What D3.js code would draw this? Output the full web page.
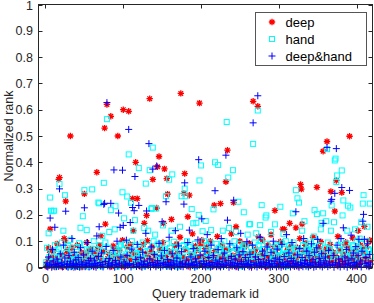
<!DOCTYPE html>
<html>
<head>
<meta charset="utf-8">
<script src="https://cdn.jsdelivr.net/npm/d3@7"></script>
<style>
  body { margin: 0; background: #fff; }
  svg { display: block; font-family: "Liberation Sans", Arial, sans-serif; }
</style>
</head>
<body>
<script>
// normalized rank of each query trademark (ids 1..418), one array per method
var deepRank = [
  .012,.004,.03,.075,.065,.146,.02,.041,.006,.063,.015,.002,.035,.01,.09,.018,.335,.342,.025,.005,
  .014,.048,.003,.11,.102,.252,.022,.068,.056,.012,.032,.50,.009,.075,.017,.001,.044,.013,.028,.006,
  .085,.019,.004,.037,.011,.058,.002,.024,.012,.28,.046,.008,.095,.016,.062,.033,.021,.07,.009,.027,
  .014,.005,.052,.018,.038,.362,.069,.011,.085,.042,.12,.016,.007,.026,.06,.53,.165,.013,.62,.034,
  .009,.05,.021,.575,.004,.031,.082,.015,.072,.047,.011,.026,.50,.008,.066,.019,.038,.005,.104,.60,
  .017,.043,.006,.029,.078,.012,.594,.035,.088,.021,.058,.262,.14,.01,.049,.40,.024,.262,.044,.007,
  .016,.067,.004,.031,.012,.088,.168,.02,.052,.198,.102,.009,.036,.642,.015,.06,.078,.335,.025,.011,
  .045,.008,.226,.383,.018,.422,.07,.065,.033,.014,.095,.168,.375,.022,.041,.338,.279,.011,.062,.003,
  .027,.183,.013,.048,.006,.083,.019,.035,.09,.055,.014,.029,.115,.662,.009,.04,.017,.282,.357,.07,
  .012,.032,.193,.005,.275,.05,.016,.024,.128,.008,.044,.018,.082,.065,.027,.011,.038,.625,.02,.09,
  .104,.015,.043,.007,.072,.022,.076,.034,.012,.057,.019,.1,.028,.005,.046,.013,.237,.064,.009,.03,
  .118,.017,.04,.006,.243,.025,.085,.011,.052,.07,.033,.326,.02,.446,.068,.014,.038,.007,.128,.024,
  .045,.247,.012,.03,.155,.004,.061,.019,.037,.1,.009,.026,.054,.015,.088,.078,.031,.011,.047,.022,
  .013,.092,.035,.006,.058,.018,.632,.028,.064,.07,.042,.012,.613,.117,.024,.008,.05,.016,.105,.033,
  .01,.062,.021,.004,.044,.085,.015,.03,.007,.125,.038,.018,.056,.079,.217,.027,.012,.072,.046,.009,
  .02,.098,.034,.006,.146,.015,.145,.05,.025,.011,.066,.07,.039,.168,.018,.082,.029,.008,.055,.013,
  .036,.151,.022,.075,.005,.045,.11,.316,.298,.165,.016,.06,.028,.084,.092,.04,.012,.068,.024,.007,
  .05,.017,.03,.115,.009,.062,.02,.042,.305,.014,.078,.066,.035,.098,.022,.01,.442,.054,.026,.013,
  .07,.479,.018,.04,.074,.088,.289,.03,.012,.058,.021,.214,.045,.331,.008,.118,.027,.015,.066,.035,
  .285,.012,.052,.022,.086,.096,.031,.016,.075,.042,.499,.009,.058,.025,.112,.014,.038,.005,.068,.02,
  .045,.14,.011,.03,.085,.018,.072,.055,.024,.156,.035,.012,.078,.043,.008,.1,.104,.026
];

var handRank = [
  .02,.075,.01,.13,.04,.266,.216,.06,.214,.025,.216,.085,.005,.06,.035,.015,.07,.318,.045,.012,
  .095,.028,.14,.008,.275,.055,.075,.018,.082,.038,.004,.105,.022,.065,.012,.048,.05,.03,.002,.078,
  .042,.015,.092,.033,.151,.007,.068,.195,.024,.294,.088,.012,.142,.05,.003,.065,.036,.018,.072,.297,
  .027,.1,.009,.058,.07,.04,.016,.247,.244,.085,.03,.005,.12,.062,.322,.02,.095,.045,.564,.014,
  .075,.135,.032,.218,.01,.045,.055,.022,.145,.233,.068,.004,.06,.038,.08,.016,.085,.05,.286,.026,
  .187,.09,.044,.012,.27,.07,.43,.06,.028,.246,.1,.007,.14,.05,.18,.085,.033,.055,.015,.378,
  .07,.02,.05,.04,.095,.006,.15,.058,.319,.03,.082,.14,.012,.37,.065,.223,.226,.456,.1,.045,
  .125,.224,.018,.088,.05,.09,.008,.07,.04,.032,.16,.062,.02,.065,.271,.09,.042,.005,.334,.075,
  .058,.14,.354,.025,.098,.012,.075,.06,.035,.004,.04,.05,.155,.018,.271,.082,.04,.085,.30,.271,
  .065,.1,.028,.08,.01,.078,.048,.222,.05,.168,.035,.09,.006,.17,.058,.07,.2,.331,.02,.388,
  .07,.138,.03,.1,.012,.177,.055,.085,.06,.04,.004,.095,.142,.022,.062,.221,.035,.40,.045,.09,
  .015,.39,.075,.065,.035,.088,.008,.14,.055,.1,.025,.068,.553,.05,.342,.15,.04,.082,.015,.075,
  .37,.058,.1,.03,.135,.072,.012,.25,.09,.045,.06,.006,.065,.08,.21,.03,.085,.045,.018,.125,
  .052,.164,.165,.078,.025,.055,.47,.04,.095,.01,.13,.062,.597,.085,.035,.161,.1,.237,.048,.07,
  .07,.015,.19,.198,.09,.04,.06,.06,.008,.135,.075,.028,.04,.05,.164,.085,.02,.08,.062,.038,
  .065,.231,.045,.092,.015,.128,.07,.03,.1,.055,.006,.05,.082,.04,.085,.065,.022,.206,.095,.05,
  .07,.294,.07,.263,.035,.247,.045,.058,.012,.14,.085,.045,.176,.1,.025,.06,.068,.008,.08,.05,
  .09,.065,.04,.075,.118,.218,.02,.1,.203,.06,.055,.03,.085,.145,.17,.05,.206,.04,.015,.075,
  .176,.45,.095,.04,.07,.065,.14,.236,.022,.05,.172,.407,.414,.325,.35,.085,.05,.065,.03,.1,
  .369,.198,.255,.07,.06,.04,.092,.14,.235,.06,.015,.228,.045,.05,.085,.08,.025,.145,.065,.1,
  .035,.07,.075,.11,.045,.172,.09,.243,.275,.06,.055,.02,.1,.155,.07,.065,.243,.04
];

var bothRank = [
  .005,.018,.002,.04,.009,.188,.013,.001,.068,.025,.006,.153,.011,.003,.032,.015,.004,.299,.052,.008,
  .02,.002,.085,.012,.036,.214,.005,.014,.001,.045,.01,.024,.003,.11,.007,.016,.058,.002,.029,.011,
  .004,.038,.013,.001,.075,.021,.006,.012,.048,.227,.003,.017,.009,.095,.026,.002,.014,.035,.006,.062,
  .01,.003,.028,.015,.001,.12,.008,.042,.155,.019,.005,.055,.012,.002,.24,.244,.023,.08,.627,.006,
  .014,.034,.003,.244,.009,.018,.065,.371,.001,.027,.011,.1,.005,.207,.016,.153,.04,.007,.37,.16,
  .021,.003,.012,.104,.046,.008,.525,.015,.171,.002,.07,.228,.01,.216,.346,.031,.004,.088,.013,.236,
  .006,.039,.017,.001,.058,.011,.024,.004,.13,.215,.014,.007,.471,.033,.002,.078,.019,.374,.009,.05,
  .012,.003,.386,.026,.008,.092,.015,.001,.044,.174,.006,.02,.065,.011,.25,.004,.03,.013,.115,.007,
  .018,.002,.052,.01,.025,.005,.14,.014,.036,.001,.082,.009,.021,.004,.06,.016,.003,.241,.322,.011,
  .028,.006,.095,.013,.142,.002,.04,.017,.008,.072,.012,.001,.033,.021,.005,.105,.41,.009,.047,.015,
  .185,.004,.024,.011,.062,.002,.016,.125,.007,.038,.013,.001,.085,.019,.005,.045,.01,.292,.028,.003,
  .014,.068,.006,.022,.002,.11,.012,.035,.004,.055,.017,.427,.008,.18,.026,.001,.09,.013,.042,.005,
  .02,.256,.007,.032,.003,.075,.015,.001,.048,.01,.13,.022,.004,.06,.012,.002,.038,.016,.098,.008,
  .025,.003,.05,.011,.001,.085,.55,.018,.006,.04,.013,.002,.653,.03,.008,.115,.016,.004,.062,.021,
  .01,.045,.002,.019,.078,.006,.028,.013,.001,.058,.016,.004,.1,.024,.009,.036,.002,.07,.014,.005,
  .03,.011,.001,.088,.018,.005,.042,.012,.003,.125,.022,.008,.055,.015,.002,.034,.095,.01,.025,.004,
  .016,.212,.006,.048,.012,.001,.072,.02,.008,.038,.003,.11,.015,.027,.005,.062,.011,.002,.045,.018,
  .007,.09,.013,.03,.001,.058,.02,.004,.075,.107,.012,.035,.006,.018,.052,.002,.168,.025,.009,.04,
  .014,.456,.003,.065,.021,.008,.252,.259,.012,.045,.001,.282,.018,.452,.085,.006,.032,.013,.002,.11,
  .304,.022,.151,.005,.04,.012,.068,.001,.028,.016,.293,.007,.123,.035,.003,.055,.019,.009,.08,.014,
  .004,.045,.107,.011,.025,.002,.062,.176,.202,.107,.016,.038,.006,.09,.02,.003,.05,.013
];

var seriesNames = ['deep', 'hand', 'deep&hand'];
var xTicks = [0, 100, 200, 300, 400];
var yTicks = [0, .1, .2, .3, .4, .5, .6, .7, .8, .9, 1];

var width = 374,
  height = 303,
  plot = { left: 38.5, right: 372.5, top: 4.5, bottom: 267.5 },
  axisColor = '#262626',
  tickLen = 4;

var svg = d3.select('body').append('svg')
  .attr('width', width)
  .attr('height', height);

var x = d3.scaleLinear().domain([-9, 420.5]).range([plot.left, plot.right]),
  y = d3.scaleLinear().domain([0, 1]).range([plot.bottom, plot.top]);

var markers = {
  deep: function(g) {
    var r = 3.2, d = 2.3;
    g.append('path')
      .attr('d', 'M' + -r + ',0H' + r + 'M0,' + -r + 'V' + r +
        'M' + -d + ',' + -d + 'L' + d + ',' + d + 'M' + -d + ',' + d + 'L' + d + ',' + -d)
      .attr('stroke', '#ff0000')
      .attr('stroke-width', 1.3)
      .attr('fill', 'none');
  },
  hand: function(g) {
    g.append('rect')
      .attr('x', -2.5).attr('y', -2.5)
      .attr('width', 5).attr('height', 5)
      .attr('stroke', '#00ffff')
      .attr('stroke-width', 1)
      .attr('fill', 'none');
  },
  'deep&hand': function(g) {
    var r = 3.5;
    g.append('path')
      .attr('d', 'M' + -r + ',0H' + r + 'M0,' + -r + 'V' + r)
      .attr('stroke', '#0000ff')
      .attr('stroke-width', 1)
      .attr('fill', 'none');
  }
};

// white plot background
svg.append('rect')
  .attr('x', plot.left).attr('y', plot.top)
  .attr('width', plot.right - plot.left)
  .attr('height', plot.bottom - plot.top)
  .attr('fill', '#fff');

var pointsG = svg.append('g');

[deepRank, handRank, bothRank].forEach(function(values, si) {
  var name = seriesNames[si];
  pointsG.append('g').selectAll('g')
    .data(values)
    .enter().append('g')
    .attr('transform', function(v, i) {
      return 'translate(' + x(i + 1) + ',' + y(v) + ')';
    })
    .each(function() { markers[name](d3.select(this)); });
});

// axes: MATLAB-like box with inward ticks on all sides
var axisG = svg.append('g').attr('stroke', axisColor).attr('fill', 'none');

axisG.append('rect')
  .attr('x', plot.left).attr('y', plot.top)
  .attr('width', plot.right - plot.left)
  .attr('height', plot.bottom - plot.top)
  .attr('stroke-width', 1);

xTicks.forEach(function(t) {
  var px = Math.round(x(t)) + .5;
  axisG.append('line').attr('x1', px).attr('x2', px).attr('y1', plot.bottom).attr('y2', plot.bottom - tickLen);
  axisG.append('line').attr('x1', px).attr('x2', px).attr('y1', plot.top).attr('y2', plot.top + tickLen);
});

yTicks.forEach(function(t) {
  var py = Math.round(y(t)) + .5;
  axisG.append('line').attr('x1', plot.left).attr('x2', plot.left + tickLen).attr('y1', py).attr('y2', py);
  axisG.append('line').attr('x1', plot.right).attr('x2', plot.right - tickLen).attr('y1', py).attr('y2', py);
});

svg.append('g').selectAll('text')
  .data(xTicks)
  .enter().append('text')
  .attr('x', function(t) { return x(t); })
  .attr('y', 283)
  .attr('text-anchor', 'middle')
  .attr('font-size', 12.5)
  .attr('fill', axisColor)
  .text(function(t) { return t; });

svg.append('g').selectAll('text')
  .data(yTicks)
  .enter().append('text')
  .attr('x', 33)
  .attr('y', function(t) { return Math.max(y(t), 5.5); })
  .attr('dy', '0.36em')
  .attr('text-anchor', 'end')
  .attr('font-size', 12.5)
  .attr('fill', axisColor)
  .text(function(t) { return d3.format('~g')(t); });

svg.append('text')
  .attr('x', (plot.left + plot.right) / 2)
  .attr('y', 298)
  .attr('text-anchor', 'middle')
  .attr('font-size', 12.5)
  .attr('fill', axisColor)
  .text('Query trademark id');

svg.append('text')
  .attr('transform', 'translate(13,' + (plot.top + plot.bottom) / 2 + ') rotate(-90)')
  .attr('text-anchor', 'middle')
  .attr('font-size', 12.5)
  .attr('fill', axisColor)
  .text('Normalized rank');

// legend
var legendG = svg.append('g').attr('transform', 'translate(255.5,12.5)');

legendG.append('rect')
  .attr('width', 111)
  .attr('height', 53)
  .attr('fill', '#fff')
  .attr('stroke', '#555');

seriesNames.forEach(function(name, i) {
  var row = legendG.append('g').attr('transform', 'translate(0,' + (9.5 + i * 17) + ')');
  markers[name](row.append('g').attr('transform', 'translate(16.5,0)'));
  row.append('text')
    .attr('x', 30)
    .attr('dy', '0.36em')
    .attr('font-size', 13)
    .attr('fill', '#000')
    .text(name);
});
</script>
</body>
</html>
